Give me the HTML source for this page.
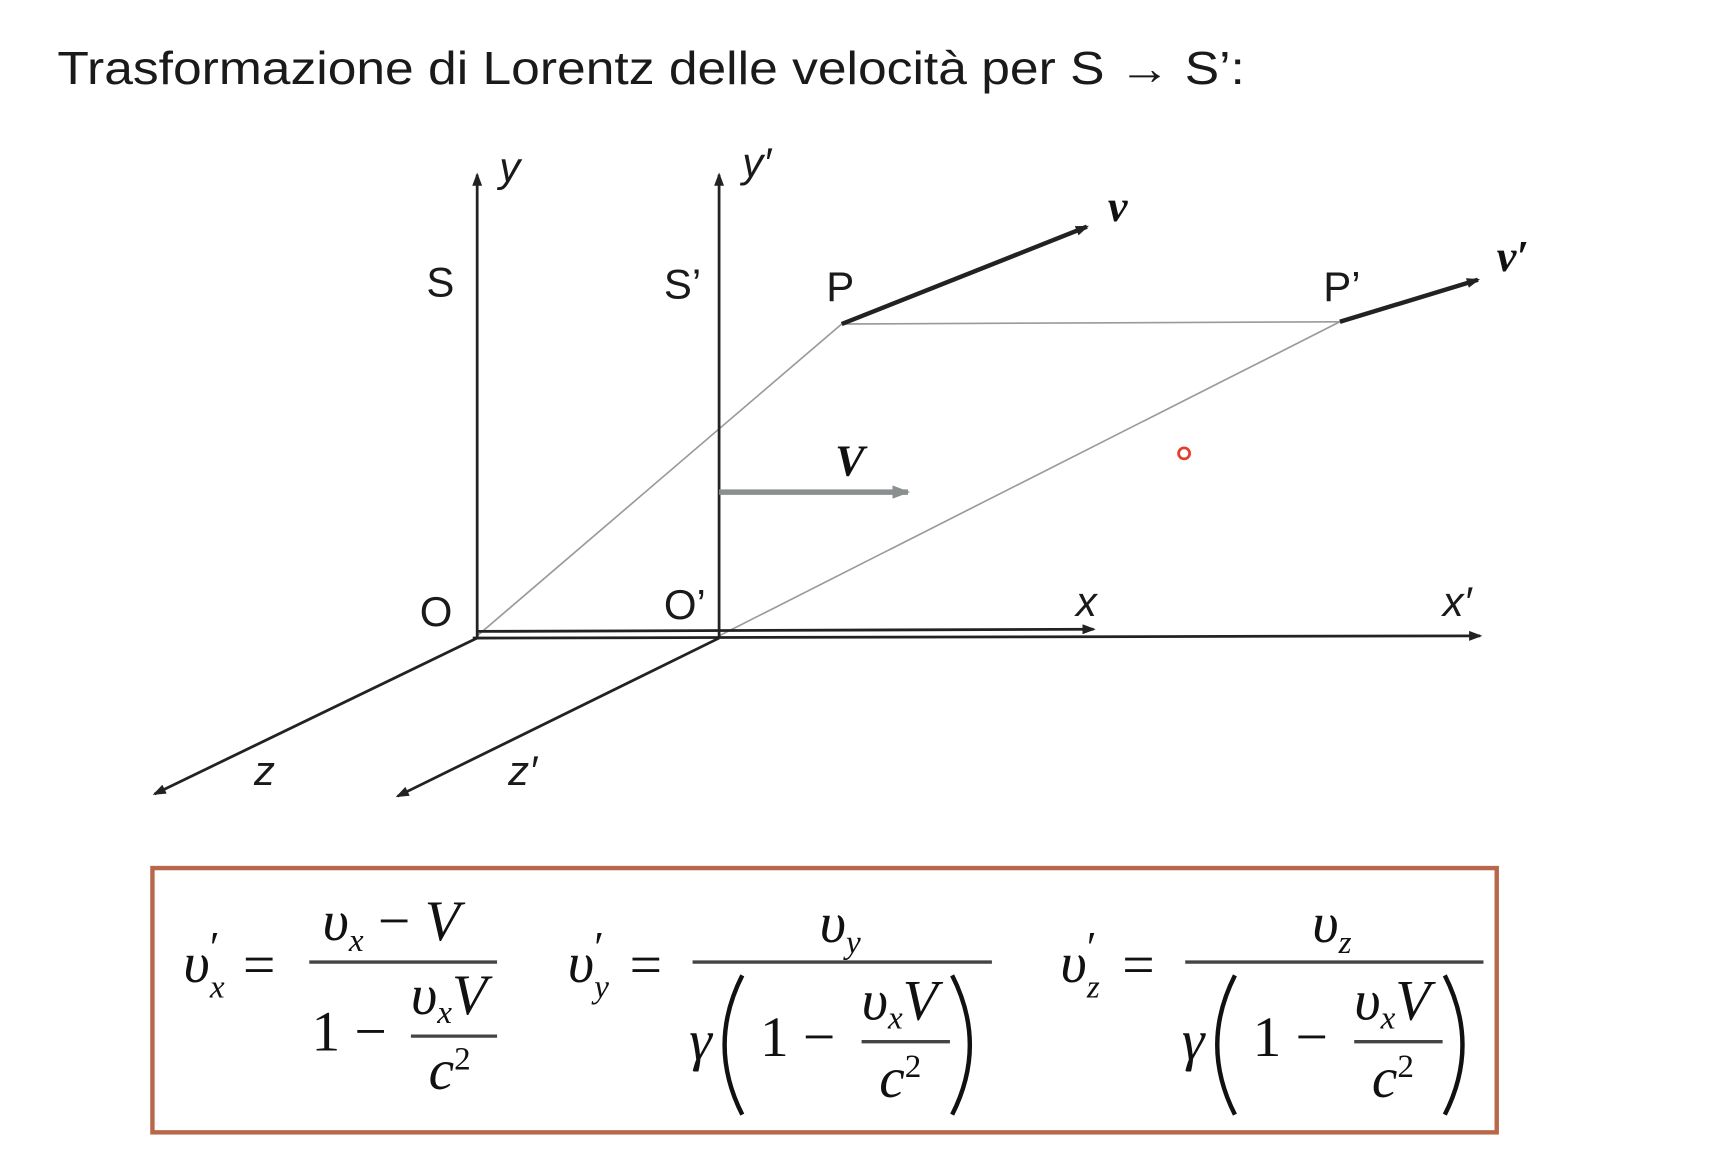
<!DOCTYPE html>
<html><head><meta charset="utf-8"><style>
html,body{margin:0;padding:0;background:#fff;width:1732px;height:1160px;overflow:hidden}
svg{display:block}
.s{font-family:"Liberation Sans",sans-serif;fill:#1a1a1a}
.m{font-family:"Liberation Serif",serif;font-style:italic;fill:#111}
</style></head><body>
<svg width="1732" height="1160" viewBox="0 0 1568 1049" preserveAspectRatio="none">
<defs>
<marker id="ah" markerWidth="12" markerHeight="9" refX="10" refY="4.5" orient="auto" markerUnits="userSpaceOnUse"><path d="M0,0 L12,4.5 L0,9 Z" fill="#222"/></marker>
<marker id="ah2" markerWidth="16" markerHeight="12" refX="14" refY="6" orient="auto" markerUnits="userSpaceOnUse"><path d="M0,0 L16,6 L0,12 Z" fill="#8a9090"/></marker>
</defs>
<text class="s" x="52" y="76" font-size="42" textLength="1075" lengthAdjust="spacingAndGlyphs">Trasformazione di Lorentz delle velocità per S → S’:</text>

<g stroke="#9a9a9a" stroke-width="1.5" fill="none">
<line x1="432" y1="575" x2="762" y2="293"/>
<line x1="762" y1="293" x2="1213" y2="291"/>
<line x1="651" y1="575" x2="1213" y2="291"/>
</g>

<g stroke="#222" stroke-width="2.5" fill="none">
<line x1="432" y1="577" x2="432" y2="158" marker-end="url(#ah)"/>
<line x1="651" y1="577" x2="651" y2="158" marker-end="url(#ah)"/>
<line x1="432" y1="571" x2="990" y2="569" marker-end="url(#ah)"/>
<line x1="428" y1="577" x2="1340" y2="575" marker-end="url(#ah)"/>
<line x1="432" y1="577" x2="140" y2="718" marker-end="url(#ah)"/>
<line x1="651" y1="577" x2="360" y2="720" marker-end="url(#ah)"/>
<line x1="762" y1="293" x2="984" y2="205" stroke-width="4" marker-end="url(#ah)"/>
<line x1="1213" y1="291" x2="1338" y2="253" stroke-width="4" marker-end="url(#ah)"/>
</g>
<line x1="651" y1="445" x2="822" y2="445" stroke="#8a9090" stroke-width="5" marker-end="url(#ah2)"/>
<circle cx="1072" cy="410" r="5" fill="#fff" stroke="#e04030" stroke-width="2.5"/>

<g class="s" font-size="38">
<text x="386" y="268">S</text>
<text x="601" y="270">S’</text>
<text x="748" y="272">P</text>
<text x="1198" y="272">P’</text>
<text x="380" y="566">O</text>
<text x="601" y="560">O’</text>
</g>
<g class="s" font-size="38" font-style="italic">
<text x="452" y="164">y</text>
<text x="672" y="160">y′</text>
<text x="974" y="557">x</text>
<text x="1306" y="557">x′</text>
<text x="230" y="710">z</text>
<text x="460" y="710">z′</text>
</g>
<g class="m" font-weight="bold" font-size="40">
<text x="1003" y="200">v</text>
<text x="1355" y="245">v′</text>
<text x="756" y="430">V</text>
</g>

<rect x="138" y="785" width="1217" height="239" fill="none" stroke="#b8684a" stroke-width="4"/>

<g class="m" font-size="52">
<text x="166" y="888">υ</text><text x="190" y="870" font-size="40" font-style="normal">′</text><text x="190" y="902" font-size="30">x</text>
<text x="220" y="890" font-style="normal">=</text>
<text x="292" y="850">υ<tspan font-size="30" dy="10">x</tspan><tspan dy="-10" font-style="normal"> − </tspan>V</text>
<line x1="280" y1="870" x2="450" y2="870" stroke="#444" stroke-width="3"/>
<text x="282" y="950" font-style="normal">1 −</text>
<text x="372" y="917">υ<tspan font-size="30" dy="8">x</tspan><tspan dy="-8">V</tspan></text>
<line x1="372" y1="937" x2="450" y2="937" stroke="#444" stroke-width="3"/>
<text x="388" y="985">c<tspan font-size="30" dy="-18" font-style="normal">2</tspan></text>
</g>

<g class="m" font-size="52">
<text x="514" y="888">υ</text><text x="538" y="870" font-size="40" font-style="normal">′</text><text x="538" y="902" font-size="30">y</text>
<text x="570" y="890" font-style="normal">=</text>
<text x="742" y="852">υ<tspan font-size="30" dy="10">y</tspan></text>
<line x1="627" y1="870" x2="898" y2="870" stroke="#444" stroke-width="3"/>
<text x="624" y="958">γ</text>
<path d="M672,882 Q640,945 672,1008" fill="none" stroke="#111" stroke-width="4"/>
<text x="688" y="955" font-style="normal">1 −</text>
<text x="780" y="922">υ<tspan font-size="30" dy="8">x</tspan><tspan dy="-8">V</tspan></text>
<line x1="780" y1="942" x2="860" y2="942" stroke="#444" stroke-width="3"/>
<text x="796" y="992">c<tspan font-size="30" dy="-18" font-style="normal">2</tspan></text>
<path d="M862,882 Q894,945 862,1008" fill="none" stroke="#111" stroke-width="4"/>
</g>

<g class="m" font-size="52">
<text x="960" y="888">υ</text><text x="984" y="870" font-size="40" font-style="normal">′</text><text x="984" y="902" font-size="30">z</text>
<text x="1016" y="890" font-style="normal">=</text>
<text x="1188" y="852">υ<tspan font-size="30" dy="10">z</tspan></text>
<line x1="1073" y1="870" x2="1343" y2="870" stroke="#444" stroke-width="3"/>
<text x="1070" y="958">γ</text>
<path d="M1118,882 Q1086,945 1118,1008" fill="none" stroke="#111" stroke-width="4"/>
<text x="1134" y="955" font-style="normal">1 −</text>
<text x="1226" y="922">υ<tspan font-size="30" dy="8">x</tspan><tspan dy="-8">V</tspan></text>
<line x1="1226" y1="942" x2="1306" y2="942" stroke="#444" stroke-width="3"/>
<text x="1242" y="992">c<tspan font-size="30" dy="-18" font-style="normal">2</tspan></text>
<path d="M1308,882 Q1340,945 1308,1008" fill="none" stroke="#111" stroke-width="4"/>
</g>
</svg>
</body></html>
